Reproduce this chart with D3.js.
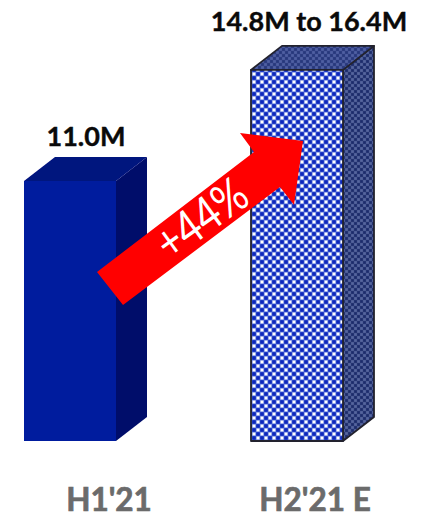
<!DOCTYPE html>
<html><head><meta charset="utf-8">
<style>html,body{margin:0;padding:0;background:#fff}svg{display:block}</style>
<script src="https://cdn.jsdelivr.net/npm/d3@7"></script></head>
<body><svg id="c" width="434" height="519"></svg>
<script>
const categories = ["H1'21", "H2'21 E"];
const barValues = [11.0, 15.7];
const valueLabels = ["11.0M", "14.8M to 16.4M"];
const growthLabel = "+44%";

const W = 434, H = 519;
const svg = d3.select("#c");
const x = d3.scalePoint().domain(categories).range([70, 297]);
const y = d3.scaleLinear().domain([0, 11]).range([441, 181]);
const bw = 92, dx = 31, dy = 24;
const defs = svg.append("defs");
defs.append("filter").attr("id","soft").attr("x","-5%").attr("y","-5%").attr("width","110%").attr("height","110%")
  .append("feGaussianBlur").attr("stdDeviation",0.6);

function pat(id, bg, light, dot, size, sd, sl) {
  const p = defs.append("pattern").attr("id", id).attr("patternUnits", "userSpaceOnUse")
    .attr("width", size).attr("height", size);
  p.append("rect").attr("width", size).attr("height", size).attr("fill", bg);
  const h = size / 2;
  [[0,0],[h,h]].forEach(([a,b]) => p.append("rect").attr("x",a+(h-sd)/2).attr("y",b+(h-sd)/2).attr("width",sd).attr("height",sd).attr("fill",dot));
  [[h,0],[0,h]].forEach(([a,b]) => p.append("rect").attr("x",a+(h-sl)/2).attr("y",b+(h-sl)/2).attr("width",sl).attr("height",sl).attr("fill",light));
}
pat("pf", "#6c84e0", "#ffffff", "#0a26bc", 8, 3.6, 2.8);
pat("ps", "#36457d", "#56659f", "#1d2b6c", 6, 2.6, 2.6);
pat("pt", "#384889", "#4f5fa3", "#28377c", 6, 2.6, 2.6);

const faces = [
  {front:"#001a9e", side:"#000f6b", top:"#00127e", stroke:"none"},
  {front:"url(#pf)", side:"url(#ps)", top:"url(#pt)", stroke:"#23232e"}
];
const line = d3.line();
const g = svg.selectAll("g.bar").data(categories).join("g").attr("class","bar").attr("filter","url(#soft)");
g.each(function(c, i) {
  const s = d3.select(this), l = x(c) - bw/2, r = l + bw, t = y(barValues[i]), b = y(0), f = faces[i];
  const add = (pts, fill) => s.append("path").attr("d", line(pts)+"Z").attr("fill", fill)
     .attr("stroke", f.stroke).attr("stroke-width", 1.8).attr("stroke-linejoin","round");
  add([[r,t],[r+dx,t-dy],[r+dx,b-dy],[r,b]], f.side);
  add([[l,t],[l+dx,t-dy],[r+dx,t-dy],[r,t]], f.top);
  add([[l,t],[r,t],[r,b],[l,b]], f.front);
});

svg.selectAll("text.val").data(valueLabels).join("text").attr("class","val")
  .attr("x",(d,i)=> i==0 ? 86 : 309).attr("y",(d,i)=> i==0 ? 146 : 31)
  .attr("text-anchor","middle").attr("font-family","Lato, 'Open Sans', sans-serif")
  .attr("font-weight",700).attr("font-size",27).attr("fill","#0a0a0a")
  .attr("stroke","#0a0a0a").attr("stroke-width",0.4).text(d=>d);

svg.selectAll("text.cat").data(categories).join("text").attr("class","cat")
  .attr("x",(d,i)=> i==0 ? 109 : 315).attr("y",511)
  .attr("text-anchor","middle").attr("font-family","Lato, 'Open Sans', sans-serif")
  .attr("font-weight",700).attr("font-size",31.5).attr("fill","#6b6b6b")
  .attr("stroke","#6b6b6b").attr("stroke-width",0.7).text(d=>d);

// growth arrow: a callout shape, anchored to the two bars
const ax = x(categories[0]);
const arrowOffsets = [[27,-169],[53,-136],[210,-254],[224,-236],[233,-300],[170,-308],[184,-289]];
const base = y(0);
svg.append("path").attr("fill","#ff0000")
  .attr("d", line(arrowOffsets.map(([a,b])=>[ax+a, base+b]))+"Z");
svg.append("text").attr("transform","translate(211,232) rotate(-36) scale(0.95,1.14)")
  .attr("text-anchor","middle").attr("font-family","Lato, 'Open Sans', sans-serif")
  .attr("font-size",42).attr("fill","#fff").text(growthLabel);
</script></body></html>
